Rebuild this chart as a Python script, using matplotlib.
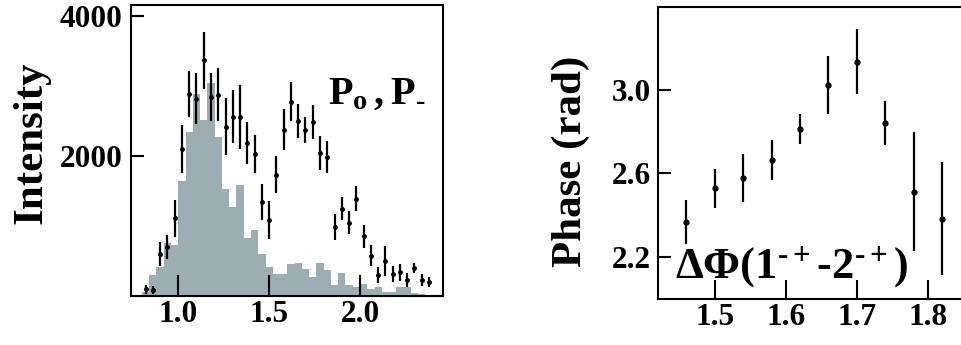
import numpy as np
import matplotlib
matplotlib.use('Agg')
import matplotlib.pyplot as plt

# ==========================================
# Datos
# ==========================================
# panel izquierdo: puntos con error (intensidad)
masa_pts = [0.82, 0.86, 0.90, 0.94, 0.98, 1.02, 1.06, 1.10, 1.14, 1.18,
            1.22, 1.26, 1.30, 1.34, 1.38, 1.42, 1.46, 1.50, 1.54, 1.58,
            1.62, 1.66, 1.70, 1.74, 1.78, 1.82, 1.86, 1.90, 1.94, 1.98,
            2.02, 2.06, 2.10, 2.14, 2.18, 2.22, 2.26, 2.30, 2.34, 2.38]
intensidad = [91, 81, 596, 700, 1105, 2096, 2881, 2815, 3362, 2839,
              2871, 2414, 2557, 2553, 2181, 2020, 1334, 1081, 1729, 2372,
              2772, 2496, 2367, 2481, 2039, 1977, 981, 1243, 1043, 1386,
              848, 571, 296, 500, 305, 334, 224, 391, 224, 196]
err_intensidad = [60, 60, 167, 170, 260, 345, 330, 360, 405, 340,
                  380, 410, 380, 460, 300, 275, 255, 275, 270, 293,
                  280, 240, 183, 240, 245, 230, 180, 167, 167, 183,
                  167, 148, 119, 214, 114, 124, 95, 71, 79, 76]

# panel izquierdo: histograma gris (bordes de bin 0.80 ... 2.40)
bordes_hist = [0.80, 0.84, 0.88, 0.92, 0.96, 1.00, 1.04, 1.08, 1.12, 1.16,
               1.20, 1.24, 1.28, 1.32, 1.36, 1.40, 1.44, 1.48, 1.52, 1.56,
               1.60, 1.64, 1.68, 1.72, 1.76, 1.80, 1.84, 1.88, 1.92, 1.96,
               2.00, 2.04, 2.08, 2.12, 2.16, 2.20, 2.24, 2.28, 2.32, 2.36, 2.40]
alturas_hist = [50, 300, 410, 750, 730, 1640, 2340, 2880, 2510, 3040,
                2270, 1520, 1270, 1580, 820, 940, 600, 410, 310, 310,
                450, 460, 380, 270, 460, 360, 150, 320, 150, 120,
                170, 90, 120, 57, 57, 120, 120, 34, 25, 0]

# panel derecho: diferencia de fase
masa_fase = [1.46, 1.50, 1.54, 1.58, 1.62, 1.66, 1.70, 1.74, 1.78, 1.82]
fase = [2.367, 2.528, 2.578, 2.666, 2.813, 3.024, 3.135, 2.842, 2.512, 2.382]
err_fase = [0.106, 0.095, 0.114, 0.096, 0.074, 0.137, 0.156, 0.106, 0.286, 0.272]

# ==========================================
# Estilo
# ==========================================
plt.rcParams['font.family'] = ['Liberation Serif', 'DejaVu Serif']
plt.rcParams['font.weight'] = 'bold'
plt.rcParams['mathtext.fontset'] = 'custom'
plt.rcParams['mathtext.rm'] = 'Liberation Serif:bold'
plt.rcParams['mathtext.it'] = 'Liberation Serif:bold'
plt.rcParams['mathtext.bf'] = 'Liberation Serif:bold'

fig = plt.figure(figsize=(9.62, 3.45), dpi=100)
W, H = 962, 345

def ejes(x0, y0, x1, y1):
    return fig.add_axes([x0 / W, 1 - y1 / H, (x1 - x0) / W, (y1 - y0) / H])

# --- panel izquierdo ---
ax1 = ejes(130.7, 5, 443, 295.7)
ax1.stairs(alturas_hist, bordes_hist, fill=True, color='#9cadb4', zorder=1)
ax1.errorbar(masa_pts, intensidad, yerr=err_intensidad, fmt='o', color='black',
             ms=2.5, elinewidth=1.6, capsize=0, zorder=3)
ax1.set_xlim(0.738, 2.457)
ax1.set_ylim(0, 4150)
ax1.set_xticks([1.0, 1.5, 2.0])
ax1.set_xticklabels(['1.0', '1.5', '2.0'])
ax1.set_yticks([2000, 4000])
ax1.tick_params(axis='x', direction='in', length=15, width=1.5, labelsize=22.5,
                pad=3, top=False)
ax1.tick_params(axis='y', direction='in', length=9, width=1.5, labelsize=22.5,
                pad=6, right=False)
ax1.set_ylabel('Intensity', fontsize=31, fontweight='bold')
ax1.yaxis.set_label_coords(-0.258, 0.525)
# guion corto (U+2010) en lugar del signo menos de mathtext
ax1.text(0.632, 0.66, '$\\mathrm{P_o\\,, P_{\u2010}}$', transform=ax1.transAxes,
         fontsize=29)
for s in ax1.spines.values():
    s.set_linewidth(1.5)
    s.set_zorder(4)

# --- panel derecho ---
ax2 = ejes(657.7, 6.7, 980, 299)
ax2.errorbar(masa_fase, fase, yerr=err_fase, fmt='o', color='black',
             ms=3.5, elinewidth=1.6, capsize=0)
ax2.set_xlim(1.42, 1.873)
ax2.set_ylim(1.997, 3.40)
ax2.set_xticks([1.5, 1.6, 1.7, 1.8])
ax2.set_yticks([2.2, 2.6, 3.0])
ax2.tick_params(axis='x', direction='in', length=14, width=1.5, labelsize=22.5,
                pad=3, top=False)
ax2.tick_params(axis='y', direction='in', length=9, width=1.5, labelsize=22.5,
                pad=5, right=False)
ax2.set_ylabel('Phase (rad)', fontsize=31, fontweight='bold')
ax2.yaxis.set_label_coords(-0.21, 0.47)
ax2.text(1.445, 2.10, '$\\Delta\\Phi(1^{\u2010+}$-$2^{\u2010+})$', fontsize=32)
for s in ax2.spines.values():
    s.set_linewidth(1.5)

fig.savefig('out.png', dpi=100)
